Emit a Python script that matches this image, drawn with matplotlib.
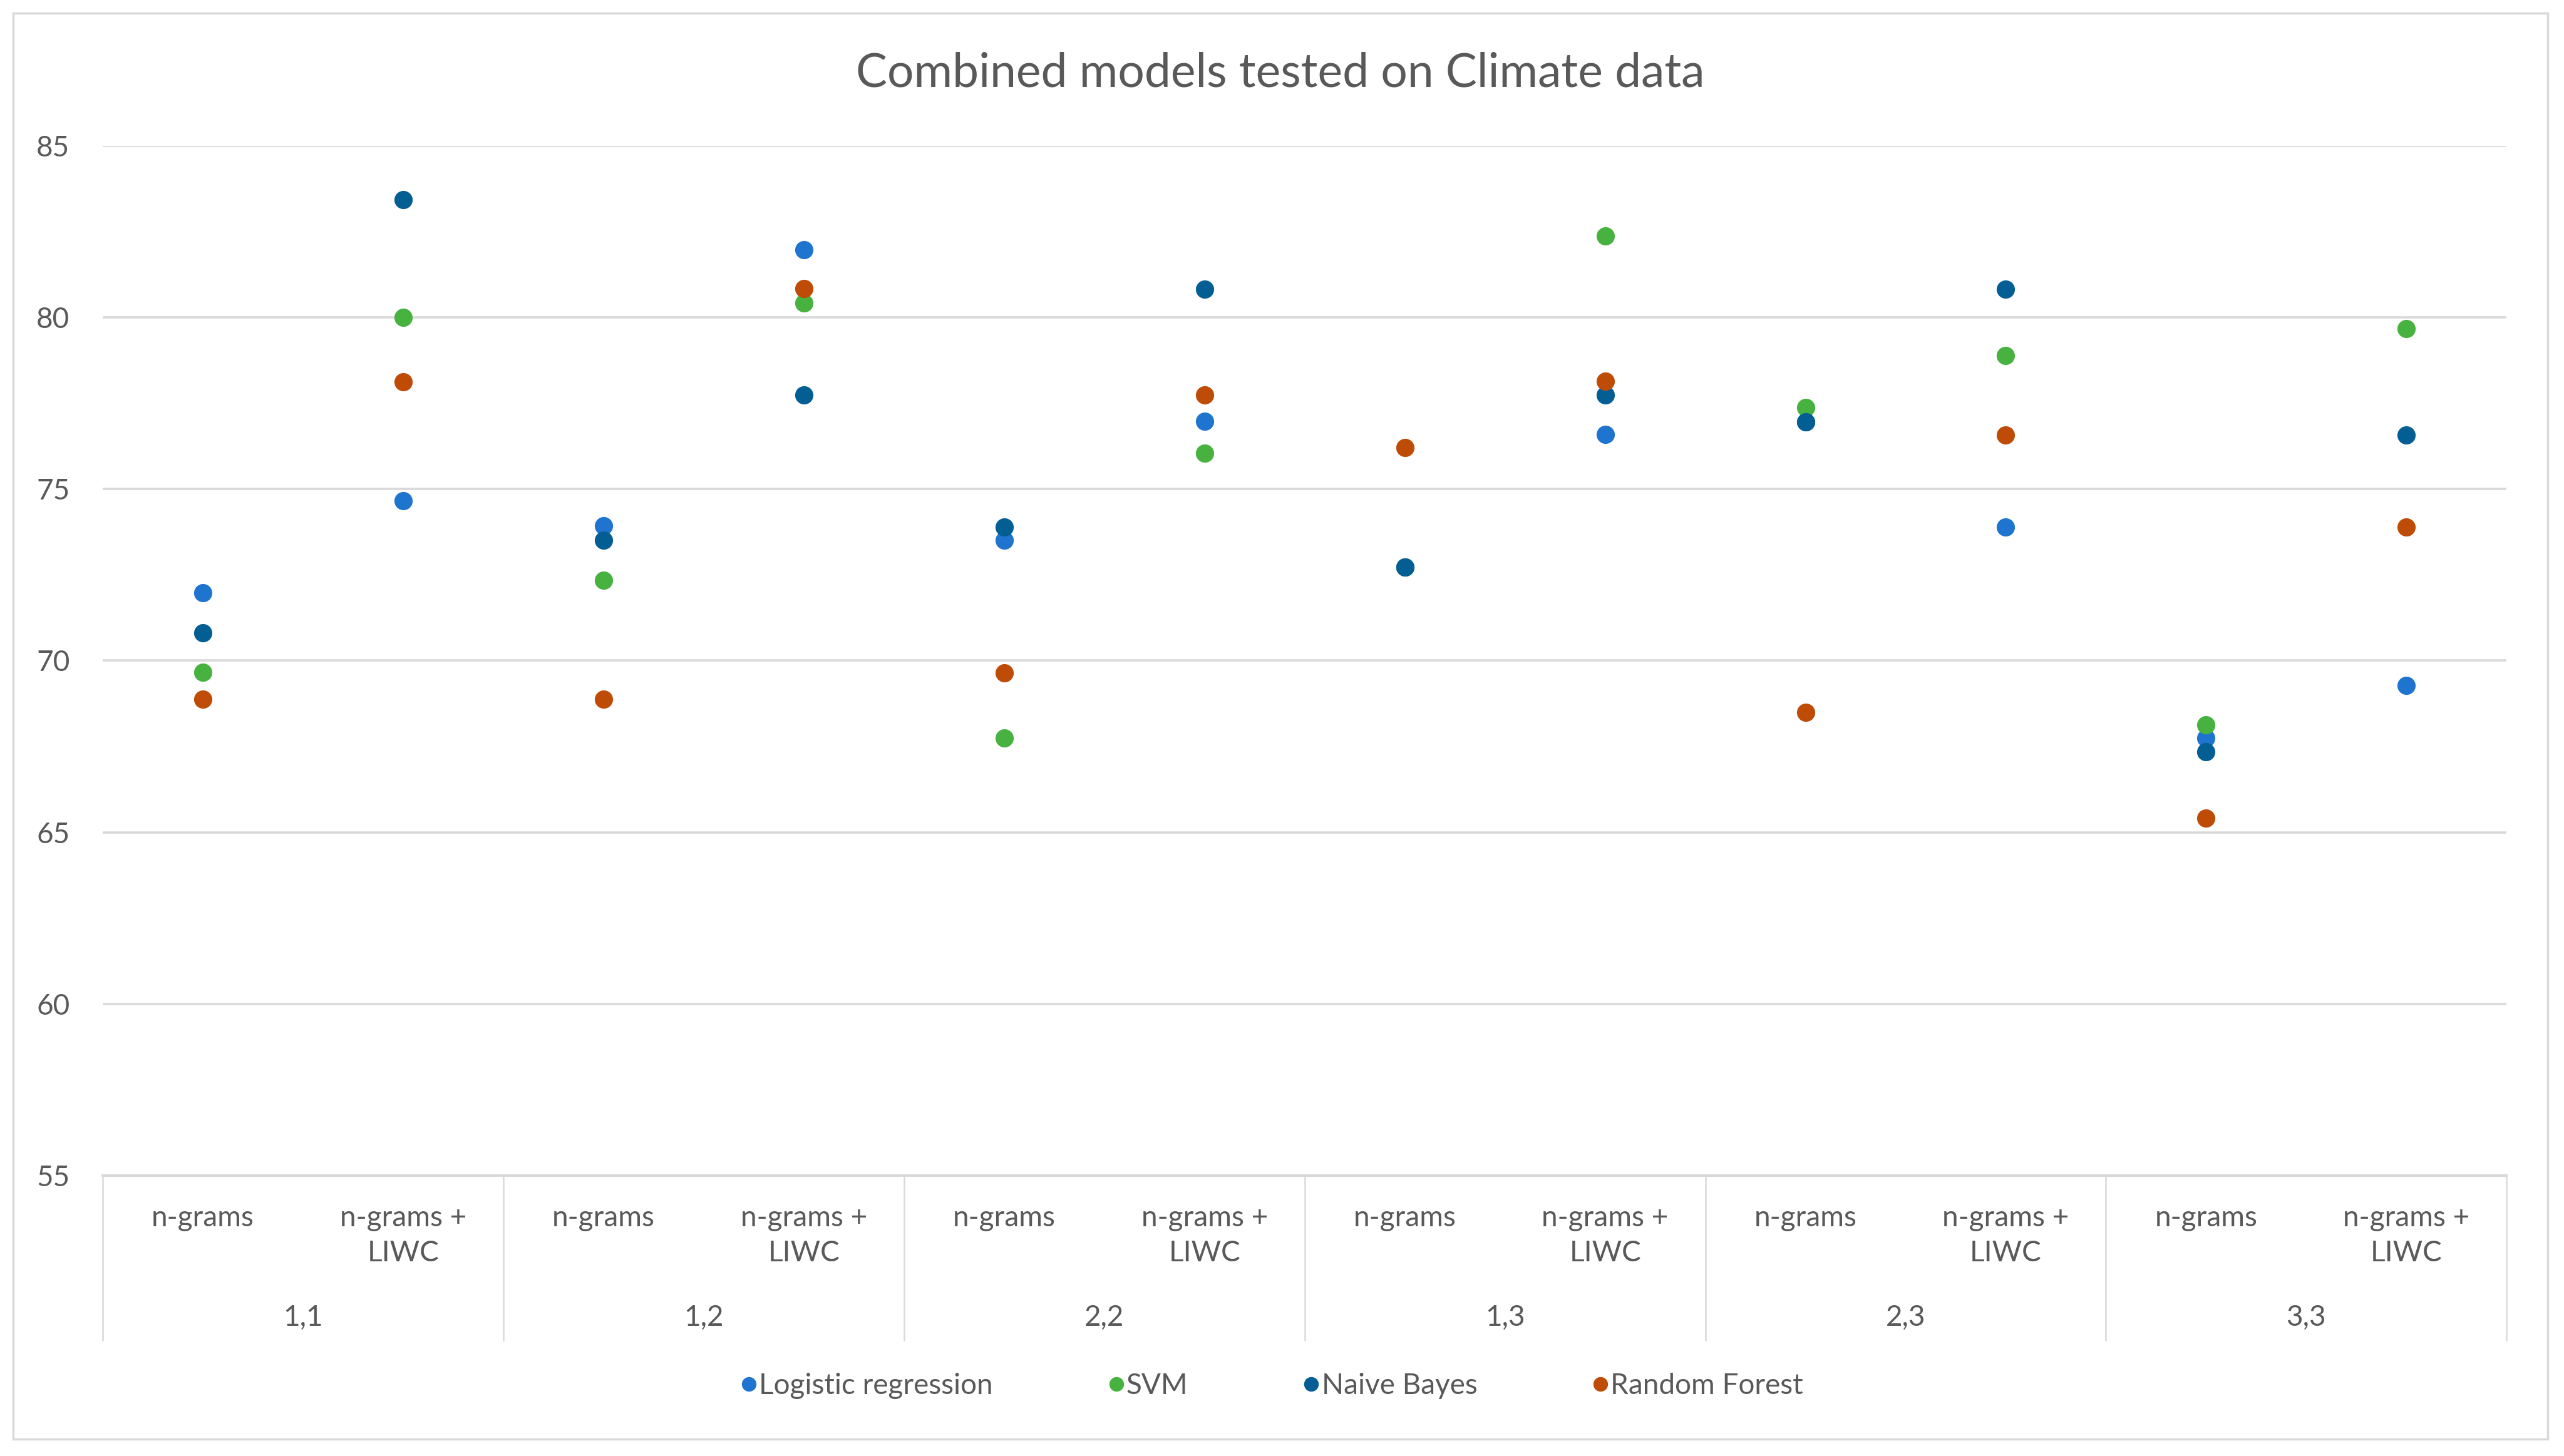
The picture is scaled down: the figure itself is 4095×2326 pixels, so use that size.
import matplotlib.pyplot as plt
import matplotlib.transforms as mtransforms
from matplotlib.patches import Rectangle

plt.rcParams['font.family'] = ['Lato', 'DejaVu Sans']

subcats = ['n-grams', 'n-grams +\nLIWC'] * 6
groups = ['1,1', '1,2', '2,2', '1,3', '2,3', '3,3']

logreg = [71.97, 74.65, 73.92, 81.97, 73.5, 76.97, 72.73, 76.59, 76.96, 73.89, 67.74, 69.27]
svm = [69.66, 80.0, 72.34, 80.42, 67.74, 76.04, 72.73, 82.36, 77.38, 78.89, 68.13, 79.66]
naive_bayes = [70.81, 83.43, 73.5, 77.73, 73.89, 80.81, 72.73, 77.74, 76.96, 80.81, 67.34, 76.57]
random_forest = [68.88, 78.12, 68.88, 80.83, 69.65, 77.74, 76.2, 78.13, 68.5, 76.57, 65.42, 73.89]

series = [
    ('Logistic regression', logreg, '#1f74cf'),
    ('SVM', svm, '#47b23f'),
    ('Naive Bayes', naive_bayes, '#035e94'),
    ('Random Forest', random_forest, '#bf4c06'),
]

txt = '#595959'
grid = '#d9d9d9'

fig = plt.figure(figsize=(40.95, 23.26), dpi=100)
ax = fig.add_axes([0.0401, 0.1926, 0.9375, 0.7074])

x = list(range(len(subcats)))
for name, vals, col in series:
    ax.plot(x, vals, 'o', color=col, markersize=21, markeredgewidth=0,
            label=name, zorder=3)

ax.set_xlim(-0.5, 11.5)
ax.set_ylim(55, 85)
ax.set_yticks([55, 60, 65, 70, 75, 80, 85])
ax.yaxis.grid(True, color=grid, lw=2.6)
ax.set_axisbelow(True)
for s in ['top', 'right', 'left']:
    ax.spines[s].set_visible(False)
ax.spines['bottom'].set_color(grid)
ax.spines['bottom'].set_linewidth(3)
ax.tick_params(axis='y', length=0, pad=38, labelsize=33, labelcolor=txt)
ax.tick_params(axis='x', length=0, pad=34, labelsize=33, labelcolor=txt)
ax.set_xticks(x)
ax.set_xticklabels(subcats, linespacing=1.4)

# group level of the category axis
trans = mtransforms.blended_transform_factory(ax.transData, ax.transAxes)
for i, g in enumerate(groups):
    ax.text(2 * i + 0.5, -0.138, g, transform=trans, ha='center', va='center',
            fontsize=33, color=txt)
for b in range(7):
    ax.plot([2 * b - 0.5, 2 * b - 0.5], [0, -0.16], transform=trans,
            color=grid, lw=1.8, clip_on=False)

fig.text(0.4994, 0.9495, 'Combined models tested on Climate data',
         ha='center', va='center', fontsize=54, color=txt)

fig.legend(loc='center', bbox_to_anchor=(0.496, 0.0482), ncol=4, frameon=False,
           fontsize=33, labelcolor=txt, markerscale=0.8, handletextpad=0.05,
           columnspacing=4.0, handlelength=0.6)

fig.patches.append(Rectangle((0.0051, 0.0116), 0.9886, 0.9794,
                             transform=fig.transFigure, fill=False,
                             edgecolor=grid, lw=2.5))

fig.savefig('out.png', dpi=100, facecolor='white')
